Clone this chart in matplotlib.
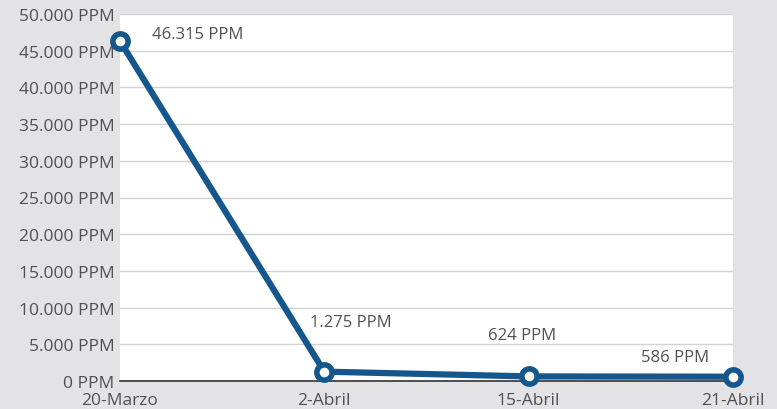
import matplotlib
matplotlib.use("Agg")
import matplotlib.pyplot as plt
from matplotlib.ticker import FuncFormatter

categories = ["20-Marzo", "2-Abril", "15-Abril", "21-Abril"]
values = [46315, 1275, 624, 586]
labels = ["46.315 PPM", "1.275 PPM", "624 PPM", "586 PPM"]
yticks = list(range(0, 50001, 5000))

BG = "#e3e3e5"
LINE = "#15578c"
TXT = "#505050"

plt.rcParams['font.family'] = ['Open Sans', 'DejaVu Sans']

fig = plt.figure(figsize=(7.77, 4.10), dpi=100, facecolor=BG)
ax = fig.add_axes([120/777, 28/410, 613/777, 367/410])
ax.set_facecolor("white")

x = list(range(len(categories)))
ax.plot(x, values, color=LINE, lw=4.5, marker="o", ms=11, mfc="white",
        mec=LINE, mew=4, zorder=5, clip_on=False, solid_capstyle="round")

ax.set_xlim(0, len(categories) - 1)
ax.set_ylim(0, 50000)
ax.set_yticks(yticks)
ax.yaxis.set_major_formatter(FuncFormatter(lambda v, p: f"{int(v):,}".replace(",", ".") + " PPM"))
ax.set_xticks(x)
ax.set_xticklabels(categories)
ax.grid(axis="y", color="#d2d2d2", lw=1)
ax.set_axisbelow(True)
for s in ["left", "right", "top"]:
    ax.spines[s].set_visible(False)
ax.spines["bottom"].set_color("#333333")
ax.spines["bottom"].set_linewidth(1.2)
ax.tick_params(axis="y", length=0, labelsize=12.5, colors=TXT, pad=4)
ax.tick_params(axis="x", length=0, labelsize=12.5, colors=TXT, pad=8)

offsets = [(23, 5, "left"), (19, 36, "center"), (-5, 30, "center"), (-42, 14, "center")]
for xi, v, lab, (dx, dy, ha) in zip(x, values, labels, offsets):
    ax.annotate(lab, (xi, v), xytext=(dx, dy), textcoords="offset points",
                ha=ha, va="center", fontsize=12, color=TXT)

fig.savefig("out.png", dpi=100, facecolor=BG)
